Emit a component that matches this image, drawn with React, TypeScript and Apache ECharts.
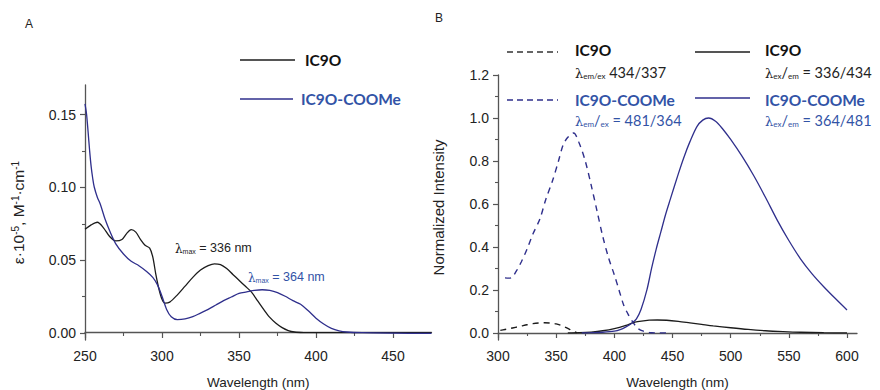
import React, { useEffect, useRef } from 'react';
import * as echarts from 'echarts';

// ---------- Panel A: absorption ----------
const wlA_IC9O = [250, 254, 258, 262, 266, 270, 274, 277, 280, 283, 286, 289, 292, 294, 296, 298, 300, 302, 305, 310, 315, 320, 325, 330, 334, 338, 342, 346, 350, 354, 358, 362, 366, 370, 374, 378, 382, 386, 392, 400, 425, 450, 475];
const absA_IC9O = [0.071, 0.074, 0.0758, 0.072, 0.066, 0.063, 0.064, 0.068, 0.0707, 0.069, 0.064, 0.060, 0.058, 0.052, 0.040, 0.030, 0.023, 0.0203, 0.021, 0.026, 0.032, 0.038, 0.043, 0.046, 0.0473, 0.0467, 0.044, 0.040, 0.036, 0.032, 0.028, 0.022, 0.016, 0.0105, 0.0065, 0.0035, 0.0015, 0.0005, 0.0001, 0, 0, 0, 0];

const wlA_COOMe = [250, 251, 252, 253, 254, 255, 256, 258, 260, 263, 266, 270, 275, 280, 285, 290, 294, 297, 300, 303, 306, 310, 315, 320, 325, 330, 335, 340, 345, 350, 355, 360, 365, 370, 375, 380, 385, 390, 395, 400, 405, 410, 415, 420, 430, 450, 475];
const absA_COOMe = [0.157, 0.150, 0.138, 0.125, 0.114, 0.106, 0.100, 0.093, 0.088, 0.078, 0.070, 0.061, 0.054, 0.049, 0.046, 0.042, 0.038, 0.033, 0.025, 0.016, 0.011, 0.009, 0.0095, 0.011, 0.0135, 0.016, 0.019, 0.022, 0.0245, 0.027, 0.028, 0.029, 0.0295, 0.029, 0.0275, 0.025, 0.022, 0.0195, 0.015, 0.010, 0.006, 0.003, 0.0013, 0.0005, 0, -0.0003, -0.0005];

// ---------- Panel B: excitation (dashed) / emission (solid) ----------
const wlB_exIC9O = [302, 306, 310, 315, 320, 325, 330, 335, 340, 345, 350, 355, 360, 364, 368];
const intB_exIC9O = [0.012, 0.016, 0.020, 0.026, 0.032, 0.038, 0.043, 0.046, 0.047, 0.046, 0.042, 0.033, 0.021, 0.010, 0.001];

const wlB_exCOOMe = [306, 309, 312, 316, 320, 325, 330, 336, 341, 347, 352, 356, 360, 365, 370, 375, 380, 385, 390, 395, 400, 404, 408, 412, 416, 420, 425, 430, 437, 445];
const intB_exCOOMe = [0.256, 0.255, 0.258, 0.29, 0.33, 0.39, 0.46, 0.53, 0.62, 0.71, 0.80, 0.875, 0.91, 0.93, 0.88, 0.80, 0.69, 0.57, 0.45, 0.35, 0.27, 0.20, 0.13, 0.085, 0.05, 0.022, 0.008, 0.002, 0, 0];

const wlB_emIC9O = [360, 370, 380, 390, 400, 410, 415, 420, 430, 437, 445, 455, 465, 475, 485, 500, 515, 530, 545, 560, 580, 600];
const intB_emIC9O = [0, 0.001, 0.004, 0.010, 0.020, 0.035, 0.045, 0.052, 0.059, 0.060, 0.059, 0.054, 0.047, 0.040, 0.033, 0.024, 0.016, 0.010, 0.006, 0.003, 0.001, 0];

const wlB_emCOOMe = [372, 380, 390, 400, 405, 410, 415, 419, 423, 428, 432, 436, 440, 444, 448, 455, 460, 465, 471, 476, 481, 487, 493, 500, 510, 520, 530, 540, 550, 560, 570, 580, 590, 600];
const intB_emCOOMe = [0, 0.001, 0.003, 0.008, 0.015, 0.028, 0.045, 0.065, 0.11, 0.20, 0.30, 0.39, 0.47, 0.55, 0.62, 0.74, 0.82, 0.89, 0.96, 0.99, 1.0, 0.985, 0.95, 0.90, 0.82, 0.73, 0.63, 0.525, 0.43, 0.345, 0.275, 0.215, 0.16, 0.107];

const seriesNames = ['IC9O', 'IC9O-COOMe'];

const BLACK = '#1c1c1c';
const NAVY = '#2f2f8c';
const BLUE_TXT = '#3253a6';
const AXIS = '#555555';
const TICK_FONT = 'Liberation Sans';
const LEG_FONT = 'Lato';

const zip = (xs: number[], ys: number[]) => xs.map((x, i) => [x, ys[i]]);

const near = (v: number, step: number) => Math.abs(v / step - Math.round(v / step)) < 1e-6;

export default function App() {
  const ref = useRef<HTMLDivElement>(null);
  useEffect(() => {
    if (!ref.current) return;
    const chart = echarts.init(ref.current, undefined, { renderer: 'svg' });

    const axisLine = { show: true, lineStyle: { color: AXIS, width: 1.3 } };
    const labelStyle = { fontFamily: TICK_FONT, fontSize: 14, color: '#222' };

    // data axes (line + name only)
    const dataX = (min: number, max: number, grid: number) => ({
      type: 'value', gridIndex: grid, min, max,
      axisLine, axisTick: { show: false }, axisLabel: { show: false }, splitLine: { show: false },
      name: 'Wavelength (nm)', nameLocation: 'middle', nameGap: 35,
      nameTextStyle: { fontFamily: TICK_FONT, fontSize: 13.5, color: '#222' },
    });
    const dataY = (min: number, max: number, grid: number, name: string, gap: number, rich?: any) => ({
      type: 'value', gridIndex: grid, min, max,
      axisLine, axisTick: { show: false }, axisLabel: { show: false }, splitLine: { show: false },
      name, nameLocation: 'middle', nameGap: gap, nameRotate: 90,
      nameTextStyle: { fontFamily: TICK_FONT, fontSize: 15, color: '#222', rich },
    });
    // tick axes (ticks + labels)
    const tickX = (min: number, max: number, interval: number, grid: number) => ({
      type: 'value', gridIndex: grid, min, max, interval, offset: 7,
      axisLine: { show: false },
      axisTick: { show: true, length: 5, lineStyle: { color: AXIS, width: 1.2 } },
      minorTick: { show: true, splitNumber: 2, length: 3, lineStyle: { color: AXIS, width: 1.1 } },
      axisLabel: { ...labelStyle, margin: 9, formatter: (v: number) => (near(v, 50) ? String(v) : '') },
      splitLine: { show: false },
    });
    const tickY = (min: number, max: number, interval: number, grid: number, dec: number) => ({
      type: 'value', gridIndex: grid, min, max, interval,
      axisLine: { show: false },
      axisTick: { show: true, length: 5, lineStyle: { color: AXIS, width: 1.2 } },
      minorTick: { show: true, splitNumber: 2, length: 3, lineStyle: { color: AXIS, width: 1.1 } },
      axisLabel: { ...labelStyle, margin: 9, formatter: (v: number) => (near(v, interval) ? v.toFixed(dec) : '') },
      splitLine: { show: false },
    });

    const yNameRich = {
      t: { fontFamily: TICK_FONT, fontSize: 15.5, color: '#222' },
      sup: { fontFamily: TICK_FONT, fontSize: 10, color: '#222', verticalAlign: 'top' },
    };

    const line = (name: string, xs: number[], ys: number[], xi: number, color: string, dashed: boolean) => ({
      type: 'line', name, xAxisIndex: xi, yAxisIndex: xi,
      data: zip(xs, ys), showSymbol: false, symbol: 'none', smooth: 0.3,
      lineStyle: { color, width: dashed ? 1.4 : 1.3, type: dashed ? [6, 5] : 'solid' },
      clip: false, silent: true,
    });

    const richLam = (color: string) => ({
      l: { fontFamily: 'DejaVu Serif', fontSize: 13, fill: color, color, lineHeight: 16, verticalAlign: 'bottom' },
      s: { fontFamily: LEG_FONT, fontSize: 8, fill: color, color, lineHeight: 12, verticalAlign: 'bottom' },
      n: { fontFamily: LEG_FONT, fontSize: 14.5, fill: color, color, lineHeight: 16, verticalAlign: 'bottom' },
    });
    const richAnn = (color: string) => ({
      l: { fontFamily: 'DejaVu Serif', fontSize: 12, fill: color, lineHeight: 15, verticalAlign: 'bottom' },
      s: { fontFamily: TICK_FONT, fontSize: 7, fill: color, lineHeight: 11, verticalAlign: 'bottom' },
      n: { fontFamily: TICK_FONT, fontSize: 12.5, fill: color, lineHeight: 15, verticalAlign: 'bottom' },
    });

    const txt = (x: number, y: number, text: string, style: any) => ({
      type: 'text', x, y, silent: true,
      style: { text, align: 'left', verticalAlign: 'middle', textAlign: 'left', textVerticalAlign: 'middle', ...style },
    });
    const leg = (x1: number, x2: number, y: number, color: string, dashed: boolean) => ({
      type: 'line', silent: true,
      shape: { x1, y1: y, x2, y2: y },
      style: { stroke: color, lineWidth: 1.6, lineDash: dashed ? [6, 4] : null },
    });
    const legTxt = (x: number, y: number, text: string, color: string) =>
      txt(x, y, text, { fill: color, fontFamily: LEG_FONT, fontWeight: 'bold', fontSize: 15.5 });

    const g = (left: number, top: number, width: number, height: number) => ({
      left, top, width, height, containLabel: false, outerBoundsMode: 'none',
    });

    const option: any = {
      animation: false,
      backgroundColor: '#ffffff',
      grid: [
        g(85, 85, 346.5, 255),     // A data
        g(85, 114.6, 308, 218.4),  // A ticks
        g(498, 75, 359, 265),      // B data
        g(498, 75, 349, 258),      // B ticks
      ],
      xAxis: [
        dataX(250, 475, 0),
        tickX(250, 450, 50, 1),
        dataX(300, 608.6, 2),
        tickX(300, 600, 50, 3),
      ],
      yAxis: [
        dataY(-0.005, 0.17, 0, '{t|ε·10}{sup|-5}{t|, M}{sup|-1}{t|·cm}{sup|-1}', 59, yNameRich),
        tickY(0, 0.15, 0.05, 1, 2),
        dataY(-0.033, 1.2, 2, 'Normalized Intensity', 52),
        tickY(0, 1.2, 0.2, 3, 1),
      ],
      series: [
        line(seriesNames[0], wlA_IC9O, absA_IC9O, 0, BLACK, false),
        line(seriesNames[1], wlA_COOMe, absA_COOMe, 0, NAVY, false),
        line(seriesNames[0] + ' ex', wlB_exIC9O, intB_exIC9O, 2, BLACK, true),
        line(seriesNames[1] + ' ex', wlB_exCOOMe, intB_exCOOMe, 2, NAVY, true),
        line(seriesNames[0] + ' em', wlB_emIC9O, intB_emIC9O, 2, BLACK, false),
        line(seriesNames[1] + ' em', wlB_emCOOMe, intB_emCOOMe, 2, NAVY, false),
      ],
      graphic: [
        txt(25, 24, 'A', { fill: '#222', fontFamily: TICK_FONT, fontSize: 12 }),
        txt(435, 18, 'B', { fill: '#222', fontFamily: TICK_FONT, fontSize: 12 }),
        // Panel A legend
        leg(240, 295, 60, BLACK, false),
        legTxt(305, 60, seriesNames[0], '#111'),
        leg(240, 293, 99, NAVY, false),
        legTxt(301, 99, seriesNames[1], BLUE_TXT),
        // Panel A annotations
        txt(175, 247, '{l|λ}{s|max}{n| = 336 nm}', { rich: richAnn('#222') }),
        txt(248, 276, '{l|λ}{s|max}{n| = 364 nm}', { rich: richAnn(BLUE_TXT) }),
        // Panel B legend, excitation column
        leg(507, 558, 52, '#333', true),
        legTxt(575, 50, seriesNames[0], '#111'),
        txt(575, 72, '{l|λ}{s|em/ex}{n| 434/337}', { rich: richLam('#222') }),
        leg(507, 558, 100, NAVY, true),
        legTxt(575, 100, seriesNames[1], BLUE_TXT),
        txt(575, 120, '{l|λ}{s|em}{n|/}{s|ex}{n| = 481/364}', { rich: richLam(BLUE_TXT) }),
        // Panel B legend, emission column
        leg(695, 750, 52, BLACK, false),
        legTxt(765, 50, seriesNames[0], '#111'),
        txt(765, 72, '{l|λ}{s|ex}{n|/}{s|em}{n| = 336/434}', { rich: richLam('#222') }),
        leg(695, 750, 98, NAVY, false),
        legTxt(765, 100, seriesNames[1], BLUE_TXT),
        txt(765, 120, '{l|λ}{s|ex}{n|/}{s|em}{n| = 364/481}', { rich: richLam(BLUE_TXT) }),
      ],
    };
    chart.setOption(option);
    return () => chart.dispose();
  }, []);
  return <div ref={ref} style={{ position: 'fixed', left: 0, top: 0, width: 880, height: 390, background: '#fff' }} />;
}
